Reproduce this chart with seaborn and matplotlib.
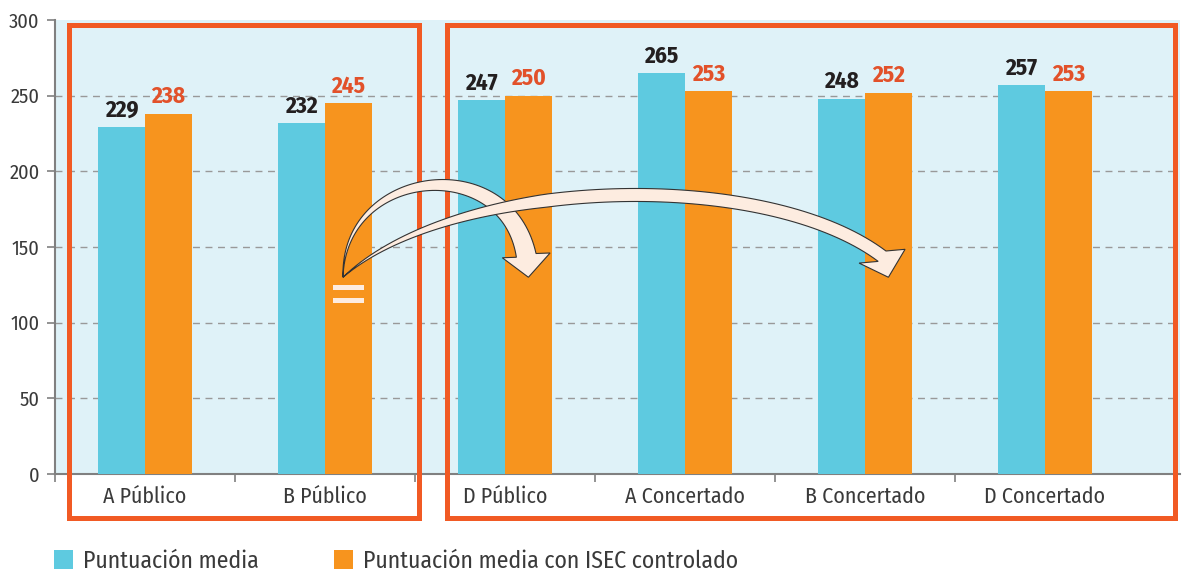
import numpy as np
import pandas as pd
import matplotlib
matplotlib.use("Agg")
import matplotlib.pyplot as plt
import seaborn as sns
from matplotlib import font_manager
from matplotlib.font_manager import FontProperties
from matplotlib.textpath import TextPath
from matplotlib.patches import Rectangle, Polygon
from matplotlib.transforms import blended_transform_factory, IdentityTransform

# ========== Data ==========
categories = ["A Público", "B Público", "D Público",
              "A Concertado", "B Concertado", "D Concertado"]
media = [229, 232, 247, 265, 248, 257]
media_isec = [238, 245, 250, 253, 252, 253]
series_names = ["Puntuación media", "Puntuación media con ISEC controlado"]

df = pd.DataFrame({
    "centro": categories * 2,
    "serie": [series_names[0]] * len(categories) + [series_names[1]] * len(categories),
    "puntuacion": media + media_isec,
})

blue = "#5ecae0"
orange = "#f7941e"
red = "#f15a24"
label_red = "#e2512a"
cream = "#fdece0"
text_grey = "#3a3a3a"

# ========== Fonts: pick a narrow humanist family if one is there ==========
names = {f.name for f in font_manager.fontManager.ttflist}


def pick(cands):
    for c in cands:
        if c in names:
            return c
    return "DejaVu Sans"


narrow = pick(["Fira Sans Condensed", "PT Sans Narrow", "Liberation Sans Narrow",
               "Roboto Condensed", "Open Sans Condensed", "Encode Sans Condensed",
               "Archivo Narrow", "Asap Condensed", "Barlow Semi Condensed"])


def fit_size(text, target_px, weight="normal"):
    """font size (pt) so that the ink width of text is target_px at 100 dpi"""
    tp = TextPath((0, 0), text, size=10, prop=FontProperties(family=narrow, weight=weight))
    return 10 * target_px * 0.72 / tp.get_extents().width


xt_size = fit_size("A Público", 82)
yt_size = fit_size("300", 29)
leg_size = fit_size("Puntuación media", 173)
lab_size = fit_size("229", 33, "bold")

sns.set_style("white")
plt.rcParams["font.family"] = [narrow, "DejaVu Sans"]


def curved_arrow(ax, start, tip, c1, c2, w_tail, taper, head_w, head_len, head_dir):
    """Cubic bezier arrow drawn as polygon, tail tapering from the start."""
    p0 = ax.transData.transform(start)
    p_tip = ax.transData.transform(tip)
    d = np.array(head_dir, float)
    d /= np.hypot(*d)
    p3 = p_tip - head_len * d
    p1 = p0 + np.array(c1)
    p2 = p3 + np.array(c2)
    t = np.linspace(0, 1, 80)[:, None]
    b = (1 - t) ** 3 * p0 + 3 * (1 - t) ** 2 * t * p1 + 3 * (1 - t) * t ** 2 * p2 + t ** 3 * p3
    db = 3 * (1 - t) ** 2 * (p1 - p0) + 6 * (1 - t) * t * (p2 - p1) + 3 * t ** 2 * (p3 - p2)
    db /= np.hypot(db[:, 0], db[:, 1])[:, None]
    n = np.column_stack([-db[:, 1], db[:, 0]])
    w = w_tail * np.minimum(1, t / taper)
    left = b + n * w / 2
    right = b - n * w / 2
    nh = np.array([-d[1], d[0]])
    pts = np.vstack([left, p3 + nh * head_w / 2, p_tip, p3 - nh * head_w / 2, right[::-1]])
    ax.add_patch(Polygon(pts, closed=True, transform=IdentityTransform(),
                         fc=cream, ec="#333333", lw=0.8, zorder=7, clip_on=False))


fig = plt.figure(figsize=(11.85, 5.74), dpi=100)
ax = fig.add_axes([55 / 1185, 1 - 474 / 574, 1125 / 1185, 454 / 574])
ax.set_facecolor("#dff2f8")

sns.barplot(data=df, x="centro", y="puntuacion", hue="serie",
            palette=[blue, orange], width=0.52, gap=0, saturation=1,
            linewidth=0, ax=ax, zorder=3)

# value labels
ax.bar_label(ax.containers[0], labels=[str(v) for v in media], padding=4,
             fontsize=lab_size, fontweight="bold", color="#231f20")
ax.bar_label(ax.containers[1], labels=[str(v) for v in media_isec], padding=4,
             fontsize=lab_size, fontweight="bold", color=label_red)

# axes styling
ax.set_ylim(0, 300)
ax.set_xlim(-0.5, 5.75)
ax.set_yticks(np.arange(0, 301, 50))
ax.set_xlabel("")
ax.set_ylabel("")
for y in range(50, 300, 50):
    ax.axhline(y, color="#999999", lw=1, ls=(0, (5, 4)), zorder=1)
for side in ["top", "right"]:
    ax.spines[side].set_visible(False)
for side in ["left", "bottom"]:
    ax.spines[side].set_color("#808080")
    ax.spines[side].set_linewidth(1.5)
ax.tick_params(axis="y", length=6, width=1.2, color="#808080", pad=5,
               labelsize=yt_size, labelcolor=text_grey, left=True)
ax.tick_params(axis="x", which="major", length=0, labelsize=xt_size,
               labelcolor=text_grey, pad=9)
ax.set_xticks(np.arange(-0.5, 5.0, 1), minor=True)
ax.tick_params(axis="x", which="minor", length=6, width=1.2, color="#808080",
               bottom=True, direction="out")

# red frames around groups
trans = blended_transform_factory(ax.transData, ax.transAxes)
for x0, x1 in [(-0.42, 1.52), (1.68, 5.72)]:
    ax.add_patch(Rectangle((x0, -0.097), x1 - x0, 1.086, transform=trans,
                           fill=False, edgecolor=red, lw=3.6,
                           clip_on=False, zorder=6))

# curved arrows
curved_arrow(ax, (1.10, 130), (2.13, 130), (0, 110), (-20, 105),
             w_tail=20, taper=1.0, head_w=48, head_len=22, head_dir=(0.1, -1))
curved_arrow(ax, (1.10, 130), (4.13, 130), (110, 100), (-120, 90),
             w_tail=13, taper=0.4, head_w=48, head_len=22, head_dir=(0.3, -1))
for yb in [113, 121.6]:
    ax.add_patch(Rectangle((1.13 - 0.083, yb), 0.167, 3.3, fc=cream, ec="none",
                           zorder=7))

# legend at bottom
handles, labels = ax.get_legend_handles_labels()
ax.legend_.remove()
fig.legend(handles, labels, loc="center left",
           bbox_to_anchor=(33 / 1185, 1 - 561 / 574),
           ncol=2, frameon=False, fontsize=leg_size, handlelength=0.8,
           handleheight=0.8, handletextpad=0.4, columnspacing=3.2,
           labelcolor=text_grey)

fig.savefig("out.png", dpi=100)
